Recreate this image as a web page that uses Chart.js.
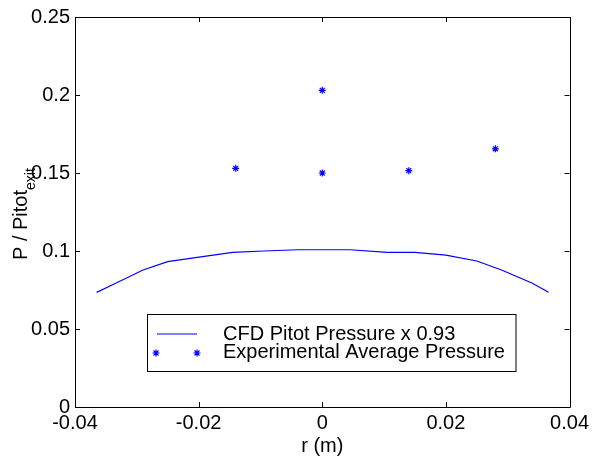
<!DOCTYPE html>
<html>
<head>
<meta charset="utf-8">
<script src="https://cdn.jsdelivr.net/npm/chart.js@4/dist/chart.umd.min.js"></script>
<style>
html,body{margin:0;padding:0;background:#fff;}
#wrap{width:593px;height:459px;position:relative;}
</style>
</head>
<body>
<div id="wrap"><canvas id="c" width="593" height="459"></canvas></div>
<script>
// ---- data ----
const cfdR = [-0.0365,-0.034,-0.029,-0.025,-0.0205,-0.0145,-0.0095,-0.004,0.0045,0.0105,0.015,0.020,0.025,0.029,0.034,0.0366];
const cfdP = [0.0735,0.0782,0.0878,0.0932,0.0957,0.0991,0.1000,0.1008,0.1008,0.0991,0.0991,0.0974,0.0936,0.0878,0.0793,0.0735];
const expR = [-0.014, 0, 0, 0.014, 0.028];
const expP = [0.153, 0.203, 0.150, 0.1515, 0.1655];
const xTickValues = [-0.04,-0.02,0,0.02,0.04];
const xTickLabels = ['-0.04','-0.02','0','0.02','0.04'];
const yTickValues = [0,0.05,0.1,0.15,0.2,0.25];
const yTickLabels = ['0','0.05','0.1','0.15','0.2','0.25'];
const seriesNames = ['CFD Pitot Pressure x 0.93','Experimental Average Pressure'];
const xTitle = 'r (m)';
const yTitleMain = 'P / Pitot';
const yTitleSub = 'exit';

const FONT = '"Liberation Sans", Arial, Helvetica, sans-serif';
const BLUE = '#0000ff';

const frame = {
  id: 'frame',
  afterDraw(chart) {
    const ctx = chart.ctx;
    const a = chart.chartArea;
    const xs = chart.scales.x, ys = chart.scales.y;
    ctx.save();
    ctx.strokeStyle = '#000';
    ctx.lineWidth = 1;
    ctx.beginPath();
    ctx.rect(Math.round(a.left)+0.5, Math.round(a.top)+0.5, Math.round(a.right-a.left), Math.round(a.bottom-a.top));
    ctx.stroke();
    const tl = 5;
    ctx.beginPath();
    xTickValues.forEach(v => {
      const px = Math.round(xs.getPixelForValue(v)) + 0.5;
      ctx.moveTo(px, a.bottom); ctx.lineTo(px, a.bottom - tl);
      ctx.moveTo(px, a.top); ctx.lineTo(px, a.top + tl);
    });
    yTickValues.forEach(v => {
      const py = Math.round(ys.getPixelForValue(v)) + 0.5;
      ctx.moveTo(a.left, py); ctx.lineTo(a.left + tl, py);
      ctx.moveTo(a.right, py); ctx.lineTo(a.right - tl, py);
    });
    ctx.stroke();

    // axis titles
    ctx.fillStyle = '#000';
    ctx.font = '20px ' + FONT;
    ctx.textAlign = 'center';
    ctx.textBaseline = 'middle';
    ctx.fillText(xTitle, (a.left + a.right) / 2, 446);

    ctx.save();
    ctx.translate(26.5, 260);
    ctx.rotate(-Math.PI / 2);
    ctx.textAlign = 'left';
    ctx.textBaseline = 'alphabetic';
    ctx.font = '20px ' + FONT;
    ctx.fillText(yTitleMain, 0, 0);
    const w = ctx.measureText(yTitleMain).width;
    ctx.font = '14px ' + FONT;
    ctx.fillText(yTitleSub, w, 8);
    ctx.restore();

    // legend
    const bx = 147.5, by = 314.5, bw = 368.5, bh = 57;
    ctx.fillStyle = '#fff';
    ctx.fillRect(bx, by, bw, bh);
    ctx.strokeStyle = '#000';
    ctx.strokeRect(bx, by, bw, bh);
    ctx.strokeStyle = BLUE;
    ctx.lineWidth = 1.2;
    ctx.beginPath();
    ctx.moveTo(157, 334); ctx.lineTo(197, 334);
    ctx.stroke();
    const star = (x, y, r) => {
      ctx.beginPath();
      for (let k = 0; k < 4; k++) {
        const ang = k * Math.PI / 4;
        ctx.moveTo(x - r * Math.cos(ang), y - r * Math.sin(ang));
        ctx.lineTo(x + r * Math.cos(ang), y + r * Math.sin(ang));
      }
      ctx.stroke();
    };
    star(156, 353, 3.5);
    star(197, 353, 3.5);
    ctx.fillStyle = '#000';
    ctx.font = '20px ' + FONT;
    ctx.textAlign = 'left';
    ctx.textBaseline = 'middle';
    ctx.fillText(seriesNames[0], 223, 334.5);
    ctx.fillText(seriesNames[1], 223, 352.5);
    ctx.restore();
  }
};

new Chart(document.getElementById('c'), {
  type: 'scatter',
  data: {
    datasets: [
      {
        label: seriesNames[0],
        data: cfdR.map((r, i) => ({x: r, y: cfdP[i]})),
        showLine: true,
        borderColor: BLUE,
        borderWidth: 1.2,
        pointRadius: 0,
        tension: 0,
        fill: false
      },
      {
        label: seriesNames[1],
        data: expR.map((r, i) => ({x: r, y: expP[i]})),
        showLine: false,
        pointStyle: 'star',
        pointRadius: 3.5,
        borderColor: BLUE,
        backgroundColor: BLUE,
        borderWidth: 1.2
      }
    ]
  },
  plugins: [frame],
  options: {
    responsive: false,
    animation: false,
    devicePixelRatio: 1,
    layout: { padding: { top: 17, right: 21, left: 0, bottom: 0 } },
    plugins: { legend: { display: false }, tooltip: { enabled: false }, title: { display: false } },
    scales: {
      x: {
        type: 'linear',
        min: -0.04, max: 0.04,
        grid: { display: false, drawTicks: false },
        border: { display: false },
        afterBuildTicks: s => { s.ticks = xTickValues.map(v => ({value: v})); },
        afterFit: s => { s.height = 52; },
        ticks: {
          color: '#000',
          font: { family: FONT, size: 20 },
          padding: 4,
          maxRotation: 0,
          autoSkip: false,
          callback: (v) => { const i = xTickValues.findIndex(t => Math.abs(t - v) < 1e-9); return i >= 0 ? xTickLabels[i] : ''; }
        }
      },
      y: {
        type: 'linear',
        min: 0, max: 0.25,
        grid: { display: false, drawTicks: false },
        border: { display: false },
        afterBuildTicks: s => { s.ticks = yTickValues.map(v => ({value: v})); },
        afterFit: s => { s.width = 75; },
        ticks: {
          color: '#000',
          font: { family: FONT, size: 20 },
          padding: 5,
          autoSkip: false,
          callback: (v) => { const i = yTickValues.findIndex(t => Math.abs(t - v) < 1e-9); return i >= 0 ? yTickLabels[i] : ''; }
        }
      }
    }
  }
});
</script>
</body>
</html>
